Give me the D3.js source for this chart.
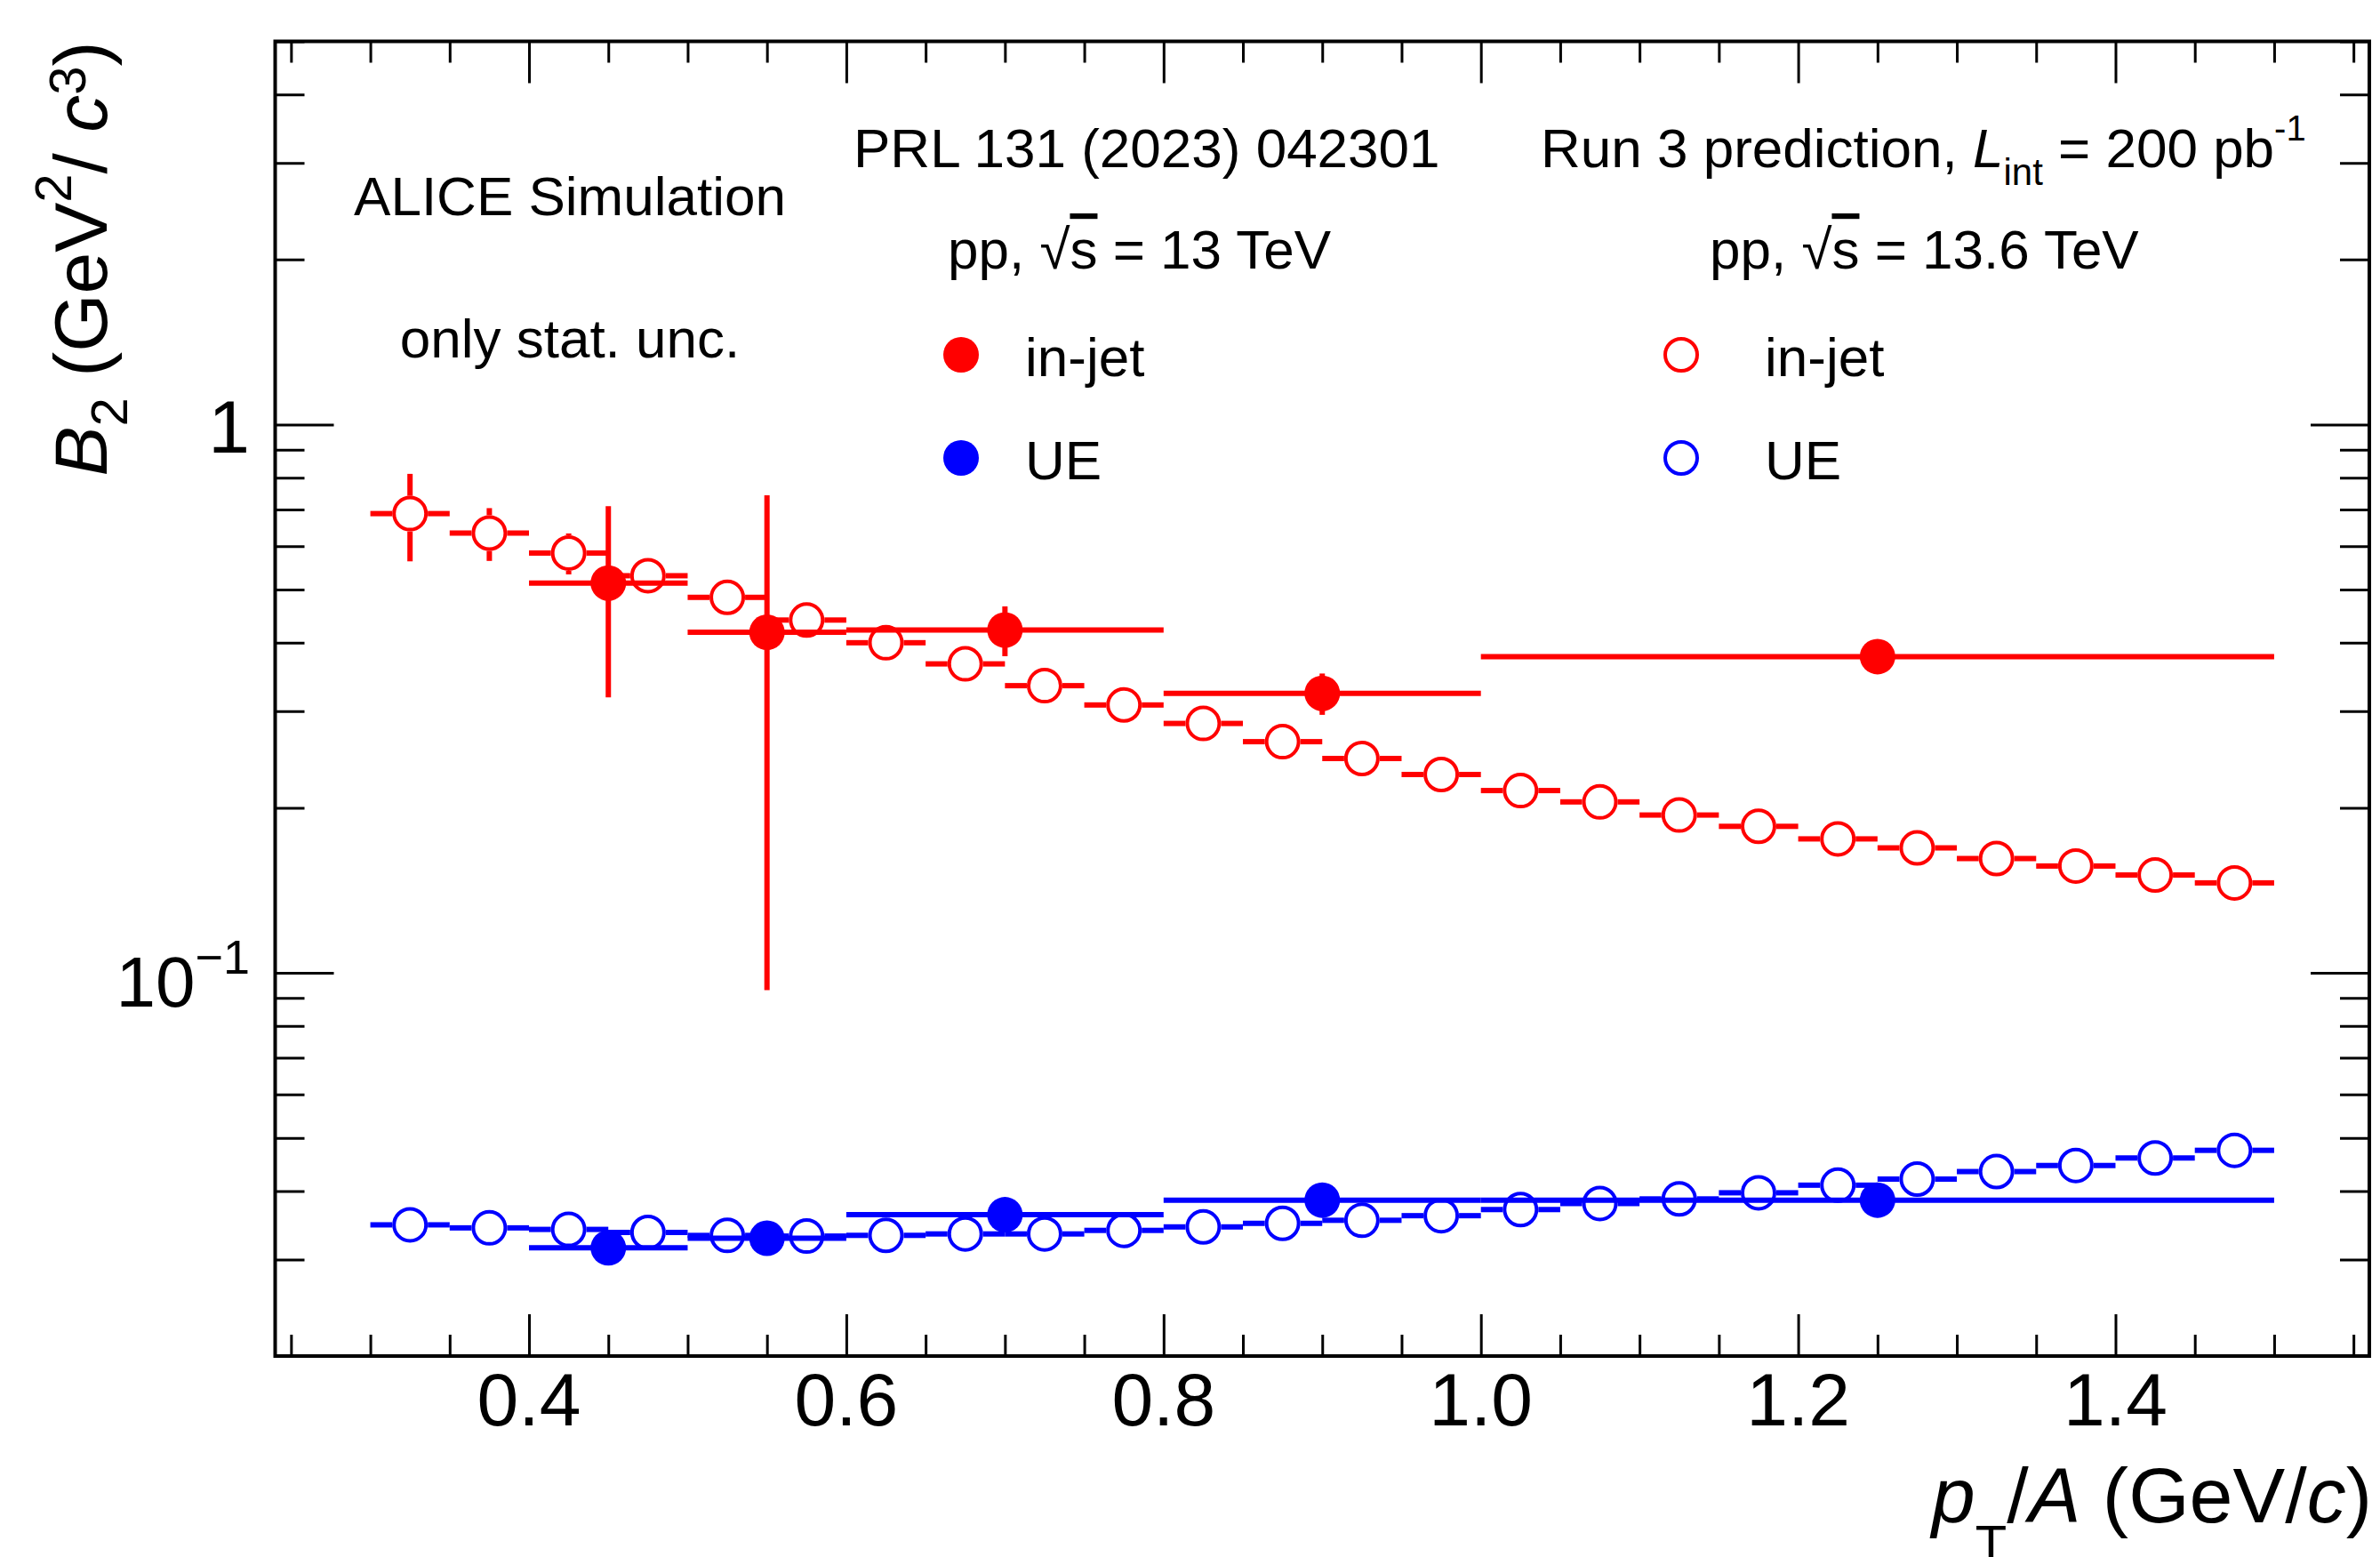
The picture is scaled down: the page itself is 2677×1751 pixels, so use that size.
<!doctype html>
<html>
<head>
<meta charset="utf-8">
<script src="https://cdnjs.cloudflare.com/ajax/libs/d3/7.8.5/d3.min.js"></script>
<style>
  body { margin: 0; background: white; }
  svg { display: block; }
  text { font-family: "Liberation Sans", Arial, Helvetica, sans-serif; fill: black; }
  .tick line { stroke: black; stroke-width: 3; }
</style>
</head>
<body>
<svg id="chart" width="2677" height="1751"></svg>
<script>

// Run 3 prediction (pp 13.6 TeV), bins of 0.05 GeV/c
var run3Centers = [0.325, 0.375, 0.425, 0.475, 0.525, 0.575, 0.625, 0.675, 0.725, 0.775, 0.825, 0.875,
                   0.925, 0.975, 1.025, 1.075, 1.125, 1.175, 1.225, 1.275, 1.325, 1.375, 1.425, 1.475];
var run3HalfWidth = [0.025, 0.025, 0.025, 0.025, 0.025, 0.025, 0.025, 0.025, 0.025, 0.025, 0.025, 0.025,
                     0.025, 0.025, 0.025, 0.025, 0.025, 0.025, 0.025, 0.025, 0.025, 0.025, 0.025, 0.025];
var run3InJet = [0.688, 0.634, 0.583, 0.530, 0.484, 0.440, 0.400, 0.366, 0.334, 0.308, 0.285, 0.264,
                 0.246, 0.230, 0.215, 0.205, 0.194, 0.185, 0.1755, 0.169, 0.1616, 0.1566, 0.1508, 0.1459];
var run3InJetErr = [0.125, 0.07, 0.05, 0.03, 0.02, 0.015, 0.012, 0.01, 0.009, 0.008, 0.007, 0.006,
                    0.006, 0.005, 0.005, 0.005, 0.004, 0.004, 0.004, 0.004, 0.004, 0.004, 0.004, 0.004];
var run3UE = [0.0347, 0.03426, 0.03404, 0.03361, 0.03319, 0.0331, 0.0332, 0.0334, 0.0334, 0.0339, 0.0344, 0.03492,
              0.03537, 0.03606, 0.0370, 0.03795, 0.03869, 0.0397, 0.04099, 0.04205, 0.0434, 0.04452, 0.04595, 0.04745];
var run3UEErr = [0.0004, 0.0004, 0.0004, 0.0004, 0.0004, 0.0004, 0.0004, 0.0004, 0.0004, 0.0004, 0.0004, 0.0004,
                 0.0004, 0.0004, 0.0004, 0.0004, 0.0004, 0.0004, 0.0004, 0.0004, 0.0004, 0.0004, 0.0004, 0.0004];

// PRL 131 (2023) 042301 (pp 13 TeV)
var prlCenters = [0.45, 0.55, 0.7, 0.9, 1.25];
var prlLo = [0.4, 0.5, 0.6, 0.8, 1.0];
var prlHi = [0.5, 0.6, 0.8, 1.0, 1.5];
var prlInJet = [0.514, 0.418, 0.422, 0.3235, 0.3774];
var prlInJetErr = [0.196, 0.325, 0.044, 0.028, 0.015];
var prlUE = [0.0315, 0.0328, 0.0362, 0.0385, 0.0385];
var prlUEErr = [0.0006, 0.0005, 0.0005, 0.0004, 0.0003];

// axis ticks
var xMajor = [0.4, 0.6, 0.8, 1.0, 1.2, 1.4];
var xMajorLabels = ["0.4", "0.6", "0.8", "1.0", "1.2", "1.4"];
var yMajor = [0.1, 1];
var yMinor = [0.02, 0.03, 0.04, 0.05, 0.06, 0.07, 0.08, 0.09,
              0.2, 0.3, 0.4, 0.5, 0.6, 0.7, 0.8, 0.9, 2, 3, 4, 5];

var RED = "#ff0000", BLUE = "#0000ff";
var R = 20;

var svg = d3.select("#chart");
var frameL = 309.5, frameR = 2665, frameT = 46.5, frameB = 1525;

var x = d3.scaleLinear().domain([0.24, 1.56]).range([frameL, frameR]);
var y = d3.scaleLog().domain([0.02, 5]).range([frameB, frameT]);

var xMinor = d3.range(0.25, 1.56, 0.05).filter(function (v) {
  return xMajor.every(function (m) { return Math.abs(m - v) > 1e-6; });
});

// ticks on all four sides, pointing inwards
function addAxis(axis, tx, ty) {
  var g = svg.append("g").attr("transform", "translate(" + tx + "," + ty + ")").call(axis);
  g.select(".domain").remove();
  g.selectAll("text").remove();
}
addAxis(d3.axisBottom(x).tickValues(xMajor).tickSize(-47).tickSizeOuter(0), 0, frameB);
addAxis(d3.axisBottom(x).tickValues(xMinor).tickSize(-24).tickSizeOuter(0), 0, frameB);
addAxis(d3.axisTop(x).tickValues(xMajor).tickSize(-47).tickSizeOuter(0), 0, frameT);
addAxis(d3.axisTop(x).tickValues(xMinor).tickSize(-24).tickSizeOuter(0), 0, frameT);
addAxis(d3.axisLeft(y).tickValues(yMajor).tickSize(-66).tickSizeOuter(0), frameL, 0);
addAxis(d3.axisLeft(y).tickValues(yMinor).tickSize(-33).tickSizeOuter(0), frameL, 0);
addAxis(d3.axisRight(y).tickValues(yMajor).tickSize(-66).tickSizeOuter(0), frameR, 0);
addAxis(d3.axisRight(y).tickValues(yMinor).tickSize(-33).tickSizeOuter(0), frameR, 0);

svg.append("rect")
  .attr("x", frameL).attr("y", frameT)
  .attr("width", frameR - frameL).attr("height", frameB - frameT)
  .attr("fill", "none").attr("stroke", "black").attr("stroke-width", 4);

// tick labels
svg.selectAll("text.xlab").data(xMajor).enter().append("text")
  .attr("class", "xlab")
  .attr("x", function (d) { return x(d); })
  .attr("y", 1603)
  .attr("text-anchor", "middle")
  .attr("font-size", 84)
  .text(function (d, i) { return xMajorLabels[i]; });

svg.append("text").attr("x", 281).attr("y", y(1) + 32)
  .attr("text-anchor", "end").attr("font-size", 84).text("1");
var t10 = svg.append("text").attr("x", 281).attr("y", y(0.1) + 38)
  .attr("text-anchor", "end").attr("font-size", 80);
t10.append("tspan").text("10");
t10.append("tspan").attr("font-size", 54).attr("dy", -37).text("\u22121");

// axis titles
var yt = svg.append("text")
  .attr("transform", "translate(120," + frameT + ") rotate(-90)")
  .attr("text-anchor", "end").attr("font-size", 84);
yt.append("tspan").attr("font-style", "italic").text("B");
yt.append("tspan").attr("font-size", 58).attr("dy", 23).text("2");
yt.append("tspan").attr("dy", -23).text(" (GeV");
yt.append("tspan").attr("font-size", 58).attr("dy", -40).text("2");
yt.append("tspan").attr("dy", 40).text("/ ");
yt.append("tspan").attr("font-style", "italic").text("c");
yt.append("tspan").attr("font-size", 58).attr("dy", -24).text("3");
yt.append("tspan").attr("dy", 24).text(")");

var xt = svg.append("text").attr("x", 2668).attr("y", 1712)
  .attr("text-anchor", "end").attr("font-size", 88);
xt.append("tspan").attr("font-style", "italic").text("p");
xt.append("tspan").attr("font-size", 58).attr("dy", 44).text("T");
xt.append("tspan").attr("dy", -44).text("/");
xt.append("tspan").attr("font-style", "italic").text("A");
xt.append("tspan").text(" (GeV/");
xt.append("tspan").attr("font-style", "italic").text("c");
xt.append("tspan").text(")");

// data layers
var plot = svg.append("g");

// open markers: error bars stop at the marker edge
function drawOpen(vals, errs, color) {
  var g = plot.append("g").attr("stroke", color).attr("stroke-width", 6);
  run3Centers.forEach(function (c, i) {
    var cx = x(c), cy = y(vals[i]);
    var xl = x(c - run3HalfWidth[i]), xr = x(c + run3HalfWidth[i]);
    var yTop = y(vals[i] + errs[i]), yBot = y(vals[i] - errs[i]);
    if (cx - R > xl) g.append("line").attr("x1", xl).attr("x2", cx - R).attr("y1", cy).attr("y2", cy);
    if (xr > cx + R) g.append("line").attr("x1", cx + R).attr("x2", xr).attr("y1", cy).attr("y2", cy);
    if (yTop < cy - R) g.append("line").attr("x1", cx).attr("x2", cx).attr("y1", yTop).attr("y2", cy - R);
    if (yBot > cy + R) g.append("line").attr("x1", cx).attr("x2", cx).attr("y1", cy + R).attr("y2", yBot);
  });
  plot.append("g").selectAll("circle").data(vals).enter().append("circle")
    .attr("cx", function (d, i) { return x(run3Centers[i]); })
    .attr("cy", function (d) { return y(d); })
    .attr("r", R - 2)
    .attr("fill", "none").attr("stroke", color).attr("stroke-width", 4);
}

function drawFilled(vals, errs, color) {
  var g = plot.append("g").attr("stroke", color).attr("stroke-width", 6);
  prlCenters.forEach(function (c, i) {
    g.append("line").attr("x1", x(prlLo[i])).attr("x2", x(prlHi[i]))
      .attr("y1", y(vals[i])).attr("y2", y(vals[i]));
    g.append("line").attr("x1", x(c)).attr("x2", x(c))
      .attr("y1", y(vals[i] + errs[i])).attr("y2", y(vals[i] - errs[i]));
  });
  plot.append("g").selectAll("circle").data(vals).enter().append("circle")
    .attr("cx", function (d, i) { return x(prlCenters[i]); })
    .attr("cy", function (d) { return y(d); })
    .attr("r", R)
    .attr("fill", color);
}

drawOpen(run3InJet, run3InJetErr, RED);
drawOpen(run3UE, run3UEErr, BLUE);
drawFilled(prlInJet, prlInJetErr, RED);
drawFilled(prlUE, prlUEErr, BLUE);

// labels and legend
function label(px, py, s, anchor) {
  return svg.append("text").attr("x", px).attr("y", py)
    .attr("font-size", 62).attr("text-anchor", anchor || "start").text(s);
}
label(641, 242, "ALICE Simulation", "middle");
label(641, 402, "only stat. unc.", "middle");
label(960, 188, "PRL 131 (2023) 042301");

var run = svg.append("text").attr("x", 1733).attr("y", 188).attr("font-size", 62);
run.append("tspan").text("Run 3 prediction, ");
run.append("tspan").attr("font-style", "italic").text("L");
run.append("tspan").attr("font-size", 42).attr("dy", 20).text("int");
run.append("tspan").attr("dy", -20).text(" = 200 pb");
run.append("tspan").attr("font-size", 40).attr("dy", -30).text("-1");

function sqrtLabel(px, py, energy) {
  var t = svg.append("text").attr("x", px).attr("y", py).attr("font-size", 62);
  t.append("tspan").text("pp, \u221A");
  t.append("tspan").attr("text-decoration", "overline").text("s");
  t.append("tspan").text(" = " + energy + " TeV");
}
sqrtLabel(1066, 302, "13");
sqrtLabel(1923, 302, "13.6");

var legendRows = [
  {x: 1081, y: 399, tx: 1153, color: RED, open: false, text: "in-jet"},
  {x: 1081, y: 515, tx: 1153, color: BLUE, open: false, text: "UE"},
  {x: 1891, y: 399, tx: 1985, color: RED, open: true, text: "in-jet"},
  {x: 1891, y: 515, tx: 1985, color: BLUE, open: true, text: "UE"}
];
legendRows.forEach(function (d) {
  svg.append("circle").attr("cx", d.x).attr("cy", d.y)
    .attr("r", d.open ? R - 2 : R)
    .attr("fill", d.open ? "none" : d.color)
    .attr("stroke", d.open ? d.color : "none")
    .attr("stroke-width", 4);
  label(d.tx, d.y + 24, d.text);
});

</script>
</body>
</html>
